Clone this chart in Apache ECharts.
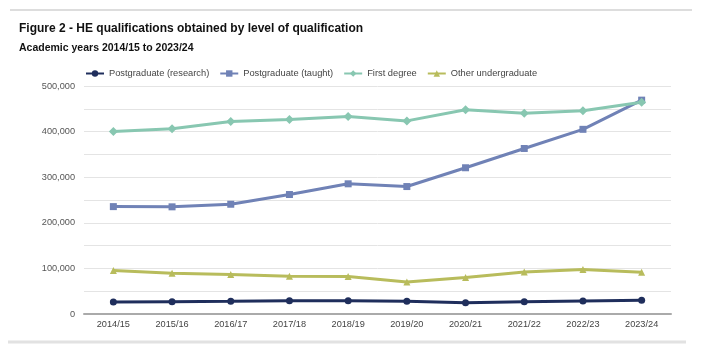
<!DOCTYPE html>
<html>
<head>
<meta charset="utf-8">
<script src="https://cdn.jsdelivr.net/npm/echarts@6/dist/echarts.min.js"></script>
<style>html,body{margin:0;padding:0;background:#fff}#c{width:701px;height:357px}</style>
</head>
<body>
<div id="c"></div>
<script>
const categories = ['2014/15','2015/16','2016/17','2017/18','2018/19','2019/20','2020/21','2021/22','2022/23','2023/24'];
const pgResearch = [26300, 27000, 27800, 29200, 29200, 27800, 24800, 27000, 28500, 30000];
const pgTaught = [235500, 235000, 240700, 262000, 285500, 279500, 320700, 363000, 405000, 469000];
const firstDegree = [400000, 406500, 422000, 426500, 433000, 423500, 448000, 440000, 445500, 464500];
const otherUG = [95600, 89500, 86600, 82800, 82000, 70000, 80000, 92000, 97500, 91600];
const seriesNames = ['Postgraduate (research)', 'Postgraduate (taught)', 'First degree', 'Other undergraduate'];
const colors = ['#1f2e5c', '#7082b6', '#88c7b1', '#b8bc5c'];
const symbols = ['circle', 'rect', 'diamond', 'triangle'];
const dataSets = [pgResearch, pgTaught, firstDegree, otherUG];

const chart = echarts.init(document.getElementById('c'));
chart.setOption({
  animation: false,
  color: colors,
  title: [
    {text: 'Figure 2 - HE qualifications obtained by level of qualification', left: 14, top: 18,
     textStyle: {fontFamily: 'Liberation Sans', fontWeight: 'bold', fontSize: 12, color: '#111'}},
    {text: 'Academic years 2014/15 to 2023/24', left: 14, top: 38,
     textStyle: {fontFamily: 'Liberation Sans', fontWeight: 'bold', fontSize: 10.5, color: '#111'}}
  ],
  graphic: [
    {type: 'line', shape: {x1: 10, y1: 10, x2: 692, y2: 10}, style: {stroke: '#dddddd', lineWidth: 2}},
    {type: 'line', shape: {x1: 8, y1: 342, x2: 686, y2: 342}, style: {stroke: '#e2e2e2', lineWidth: 3}}
  ],
  legend: {
    left: 80, top: 64, itemWidth: 18, itemHeight: 8, itemGap: 10,
    textStyle: {fontFamily: 'Liberation Sans', fontSize: 9.3, color: '#444'},
    data: seriesNames
  },
  grid: {left: 84, right: 30, top: 86, bottom: 43, containLabel: false},
  xAxis: {
    type: 'category', data: categories, boundaryGap: true,
    axisLine: {lineStyle: {color: '#aaaaaa', width: 2}},
    axisTick: {show: false},
    axisLabel: {fontFamily: 'Liberation Sans', fontSize: 9.2, color: '#444', margin: 6, interval: 0}
  },
  yAxis: {
    type: 'value', min: 0, max: 500000, interval: 50000,
    axisLine: {show: false}, axisTick: {show: false},
    axisLabel: {fontFamily: 'Liberation Sans', fontSize: 9.2, color: '#555', margin: 9,
      formatter: v => (v % 100000 === 0 ? v.toLocaleString('en-GB') : '')},
    splitLine: {lineStyle: {color: '#e4e4e4', width: 1}}
  },
  series: dataSets.map((d, i) => ({
    name: seriesNames[i], type: 'line', data: d,
    symbol: symbols[i], symbolSize: i === 2 ? 9 : 7,
    lineStyle: {width: 3, color: colors[i]},
    itemStyle: {color: colors[i]}
  }))
});
</script>
</body>
</html>
